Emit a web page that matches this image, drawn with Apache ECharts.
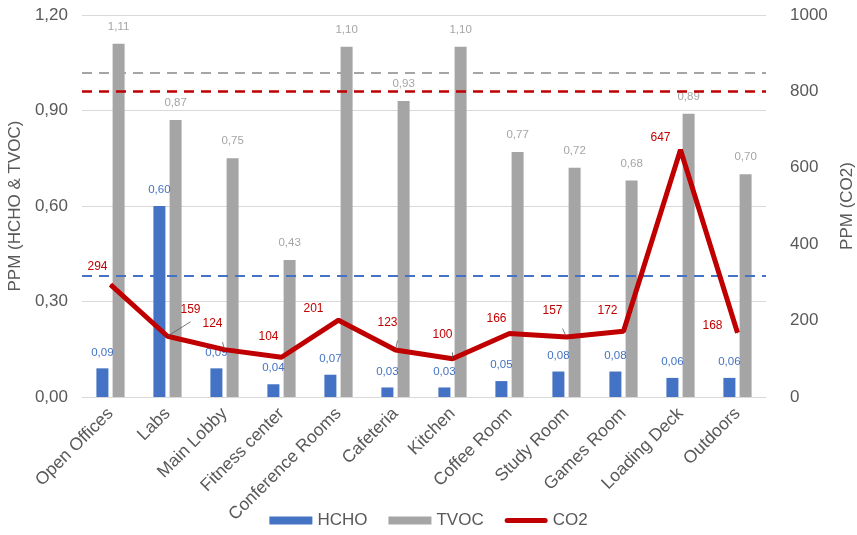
<!DOCTYPE html>
<html>
<head>
<meta charset="utf-8">
<script src="https://cdn.jsdelivr.net/npm/echarts@6/dist/echarts.min.js"></script>
<style>
  html, body { margin: 0; padding: 0; background: #fff; }
  #chart { width: 857px; height: 535px; }
</style>
</head>
<body>
<div id="chart"></div>
<script>
// Indoor air quality per area: formaldehyde and TVOC (bars, left axis), CO2 (line, right axis)
const categories = ['Open Offices', 'Labs', 'Main Lobby', 'Fitness center', 'Conference Rooms',
  'Cafeteria', 'Kitchen', 'Coffee Room', 'Study Room', 'Games Room', 'Loading Deck', 'Outdoors'];
const hcho = [0.09, 0.60, 0.09, 0.04, 0.07, 0.03, 0.03, 0.05, 0.08, 0.08, 0.06, 0.06];
const tvoc = [1.11, 0.87, 0.75, 0.43, 1.10, 0.93, 1.10, 0.77, 0.72, 0.68, 0.89, 0.70];
const co2 = [294, 159, 124, 104, 201, 123, 100, 166, 157, 172, 647, 168];

// Reference limits drawn as dashed lines
const tvocLimit = 1.02;   // left axis
const co2Limit = 800;     // right axis
const hchoLimit = 0.38;   // left axis

const leftTicks = [0, 0.3, 0.6, 0.9, 1.2];
const rightTicks = [0, 200, 400, 600, 800, 1000];

const BLUE = '#4472C4', GREY = '#A5A5A5', RED = '#C00000', TEXT = '#595959';

// Label nudges for the CO2 values so they sit clear of the line
const co2LabelOffsets = [[-13, -6], [23, -14], [-12, -13], [-13, -8], [-25, 1], [-8, -15],
  [-10, -12], [-13, -2], [-14, -14], [-16, -8], [-20, 0], [-25, 5]];
// Points whose label gets a thin leader line
const co2Leaders = [false, true, true, false, false, true, true, false, true, false, false, false];

const comma = v => v.toFixed(2).replace('.', ',');

const chart = echarts.init(document.getElementById('chart'));
chart.setOption({
  animation: false,
  textStyle: { fontFamily: 'Liberation Sans, Arial, sans-serif' },
  grid: { left: 82, right: 91, top: 15, bottom: 138, outerBoundsMode: 'none', containLabel: false },
  legend: {
    bottom: 1,
    left: 'center',
    itemWidth: 43,
    itemHeight: 8,
    itemGap: 21,
    textStyle: { color: TEXT, fontSize: 17 },
    data: [
      { name: 'HCHO', icon: 'rect' },
      { name: 'TVOC', icon: 'rect' },
      { name: 'CO2', icon: 'path://M0,-1.5 M0,6.5 M2.5,0 H40.5 A2.5,2.5 0 0 1 40.5,5 H2.5 A2.5,2.5 0 0 1 2.5,0 Z' }
    ]
  },
  xAxis: {
    type: 'category',
    data: categories,
    axisTick: { show: false },
    axisLine: { lineStyle: { color: '#D9D9D9' } },
    axisLabel: { rotate: 45, color: TEXT, fontSize: 17.5, margin: 14, interval: 0 }
  },
  yAxis: [
    {
      type: 'value',
      min: leftTicks[0],
      max: leftTicks[leftTicks.length - 1],
      interval: 0.3,
      name: 'PPM (HCHO & TVOC)',
      nameLocation: 'middle',
      nameGap: 57,
      nameTextStyle: { color: TEXT, fontSize: 17 },
      axisLabel: { color: TEXT, fontSize: 17, formatter: comma, margin: 14 },
      splitLine: { lineStyle: { color: '#D9D9D9', width: 1 } },
      axisLine: { show: false },
      axisTick: { show: false }
    },
    {
      type: 'value',
      min: rightTicks[0],
      max: rightTicks[rightTicks.length - 1],
      interval: 200,
      name: 'PPM (CO2)',
      nameLocation: 'middle',
      nameGap: 65,
      nameRotate: 90,
      nameTextStyle: { color: TEXT, fontSize: 17 },
      axisLabel: { color: TEXT, fontSize: 17, margin: 24, formatter: v => String(v) },
      splitLine: { show: false },
      axisLine: { show: false },
      axisTick: { show: false }
    }
  ],
  series: [
    {
      name: 'HCHO',
      type: 'bar',
      data: hcho,
      barWidth: 12,
      barGap: '35%',
      itemStyle: { color: BLUE },
      label: {
        show: true, position: 'top', distance: 10,
        color: BLUE, fontSize: 11.5, formatter: p => comma(p.value)
      },
      markLine: {
        silent: true, symbol: 'none', label: { show: false },
        lineStyle: { color: BLUE, type: [10, 7], width: 2 },
        data: [{ yAxis: hchoLimit }]
      }
    },
    {
      name: 'TVOC',
      type: 'bar',
      data: tvoc,
      barWidth: 12,
      itemStyle: { color: GREY },
      label: {
        show: true, position: 'top', distance: 11,
        color: GREY, fontSize: 11.5, formatter: p => comma(p.value)
      },
      markLine: {
        silent: true, symbol: 'none', label: { show: false },
        lineStyle: { color: GREY, type: [10, 7], width: 2 },
        data: [{ yAxis: tvocLimit }]
      }
    },
    {
      name: 'CO2',
      type: 'line',
      yAxisIndex: 1,
      data: co2.map((v, i) => ({
        value: v,
        label: { offset: co2LabelOffsets[i] },
        labelLine: { show: co2Leaders[i] }
      })),
      symbol: 'circle',
      symbolSize: 1,
      showSymbol: true,
      lineStyle: { color: RED, width: 5 },
      itemStyle: { color: RED },
      label: { show: true, position: 'top', color: RED, fontSize: 12, distance: 6 },
      labelLine: { show: false, lineStyle: { color: '#595959', width: 0.8 } },
      markLine: {
        silent: true, symbol: 'none', label: { show: false },
        lineStyle: { color: RED, type: [10, 7], width: 2.5 },
        data: [{ yAxis: co2Limit }]
      },
      z: 5
    }
  ]
});
</script>
</body>
</html>
